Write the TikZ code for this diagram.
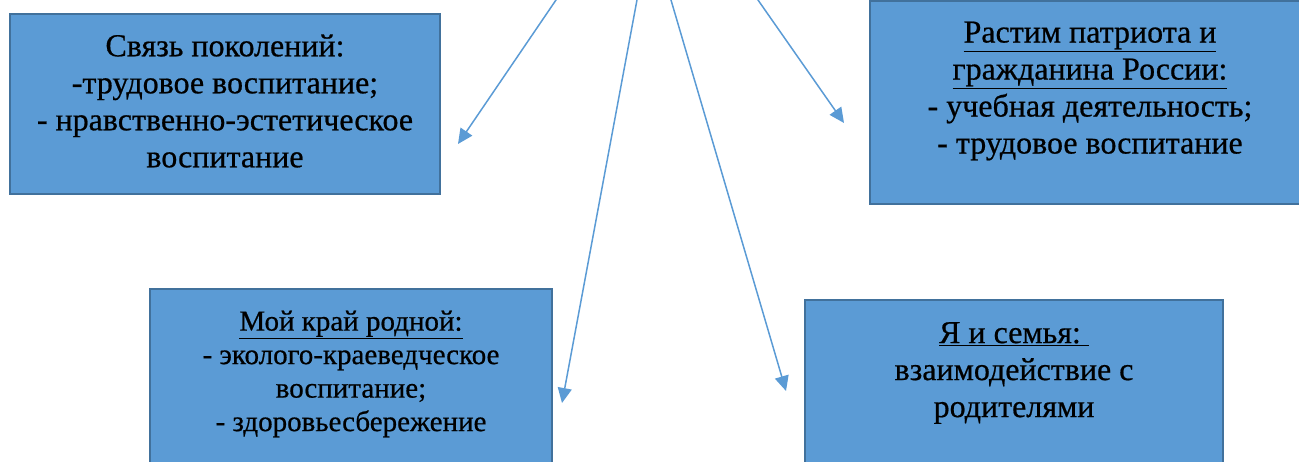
\documentclass[tikz,border=0pt]{standalone}
\usepackage{fontspec}
\setmainfont{Liberation Serif}[FakeBold=0.6]
\usetikzlibrary{arrows.meta}
\definecolor{boxfill}{HTML}{5B9BD5}
\definecolor{boxline}{HTML}{41719C}
\definecolor{arrowcol}{HTML}{5B9BD5}
\tikzset{
  bluebox/.style={draw=boxline, line width=2.5pt, fill=boxfill},
  bigtext/.style={align=center, inner sep=0pt, font=\fontsize{32}{37}\selectfont},
  midtext/.style={align=center, inner sep=0pt, font=\fontsize{29}{33.5}\selectfont},
  link/.style={draw=arrowcol, line width=1.5pt, -{Triangle[length=15pt,width=14pt]}}
}
\begin{document}
\begin{tikzpicture}[x=1pt,y=-1pt]
\useasboundingbox (0,0) rectangle (1299,462);
\clip (0,0) rectangle (1299,462);
% boxes
\path[bluebox] (10,14) rectangle (440,194);
\path[bluebox] (870,1) rectangle (1312,204);
\path[bluebox] (150,289) rectangle (552,490);
\path[bluebox] (805,300) rectangle (1223,490);
% texts
\node[bigtext] (t1) at (225,101) {Связь поколений:\\-трудовое воспитание;\\- нравственно-эстетическое\\воспитание};
\node[bigtext] (t2) at (1090,91) {\underline{Растим патриота и}\\\underline{гражданина России:}\\- учебная деятельность;\\- трудовое воспитание};
\node[midtext] (t3) at (351,374) {\underline{Мой край родной:}\\- эколого-краеведческое\\воспитание;\\- здоровьесбережение};
\node[bigtext] (t4) at (1014,373) {\underline{Я и семья:\ }\\взаимодействие с\\родителями};
% connector ends
\coordinate (s1) at (569.6,-20);
\coordinate (s2) at (640.7,-20);
\coordinate (s3) at (665.1,-20);
\coordinate (s4) at (744,-20);
\coordinate (e1) at (458,144);
\coordinate (e2) at (562,403);
\coordinate (e3) at (786,391);
\coordinate (e4) at (844,123);
\draw[link] (s1) -- (e1);
\draw[link] (s2) -- (e2);
\draw[link] (s3) -- (e3);
\draw[link] (s4) -- (e4);
\end{tikzpicture}
\end{document}
